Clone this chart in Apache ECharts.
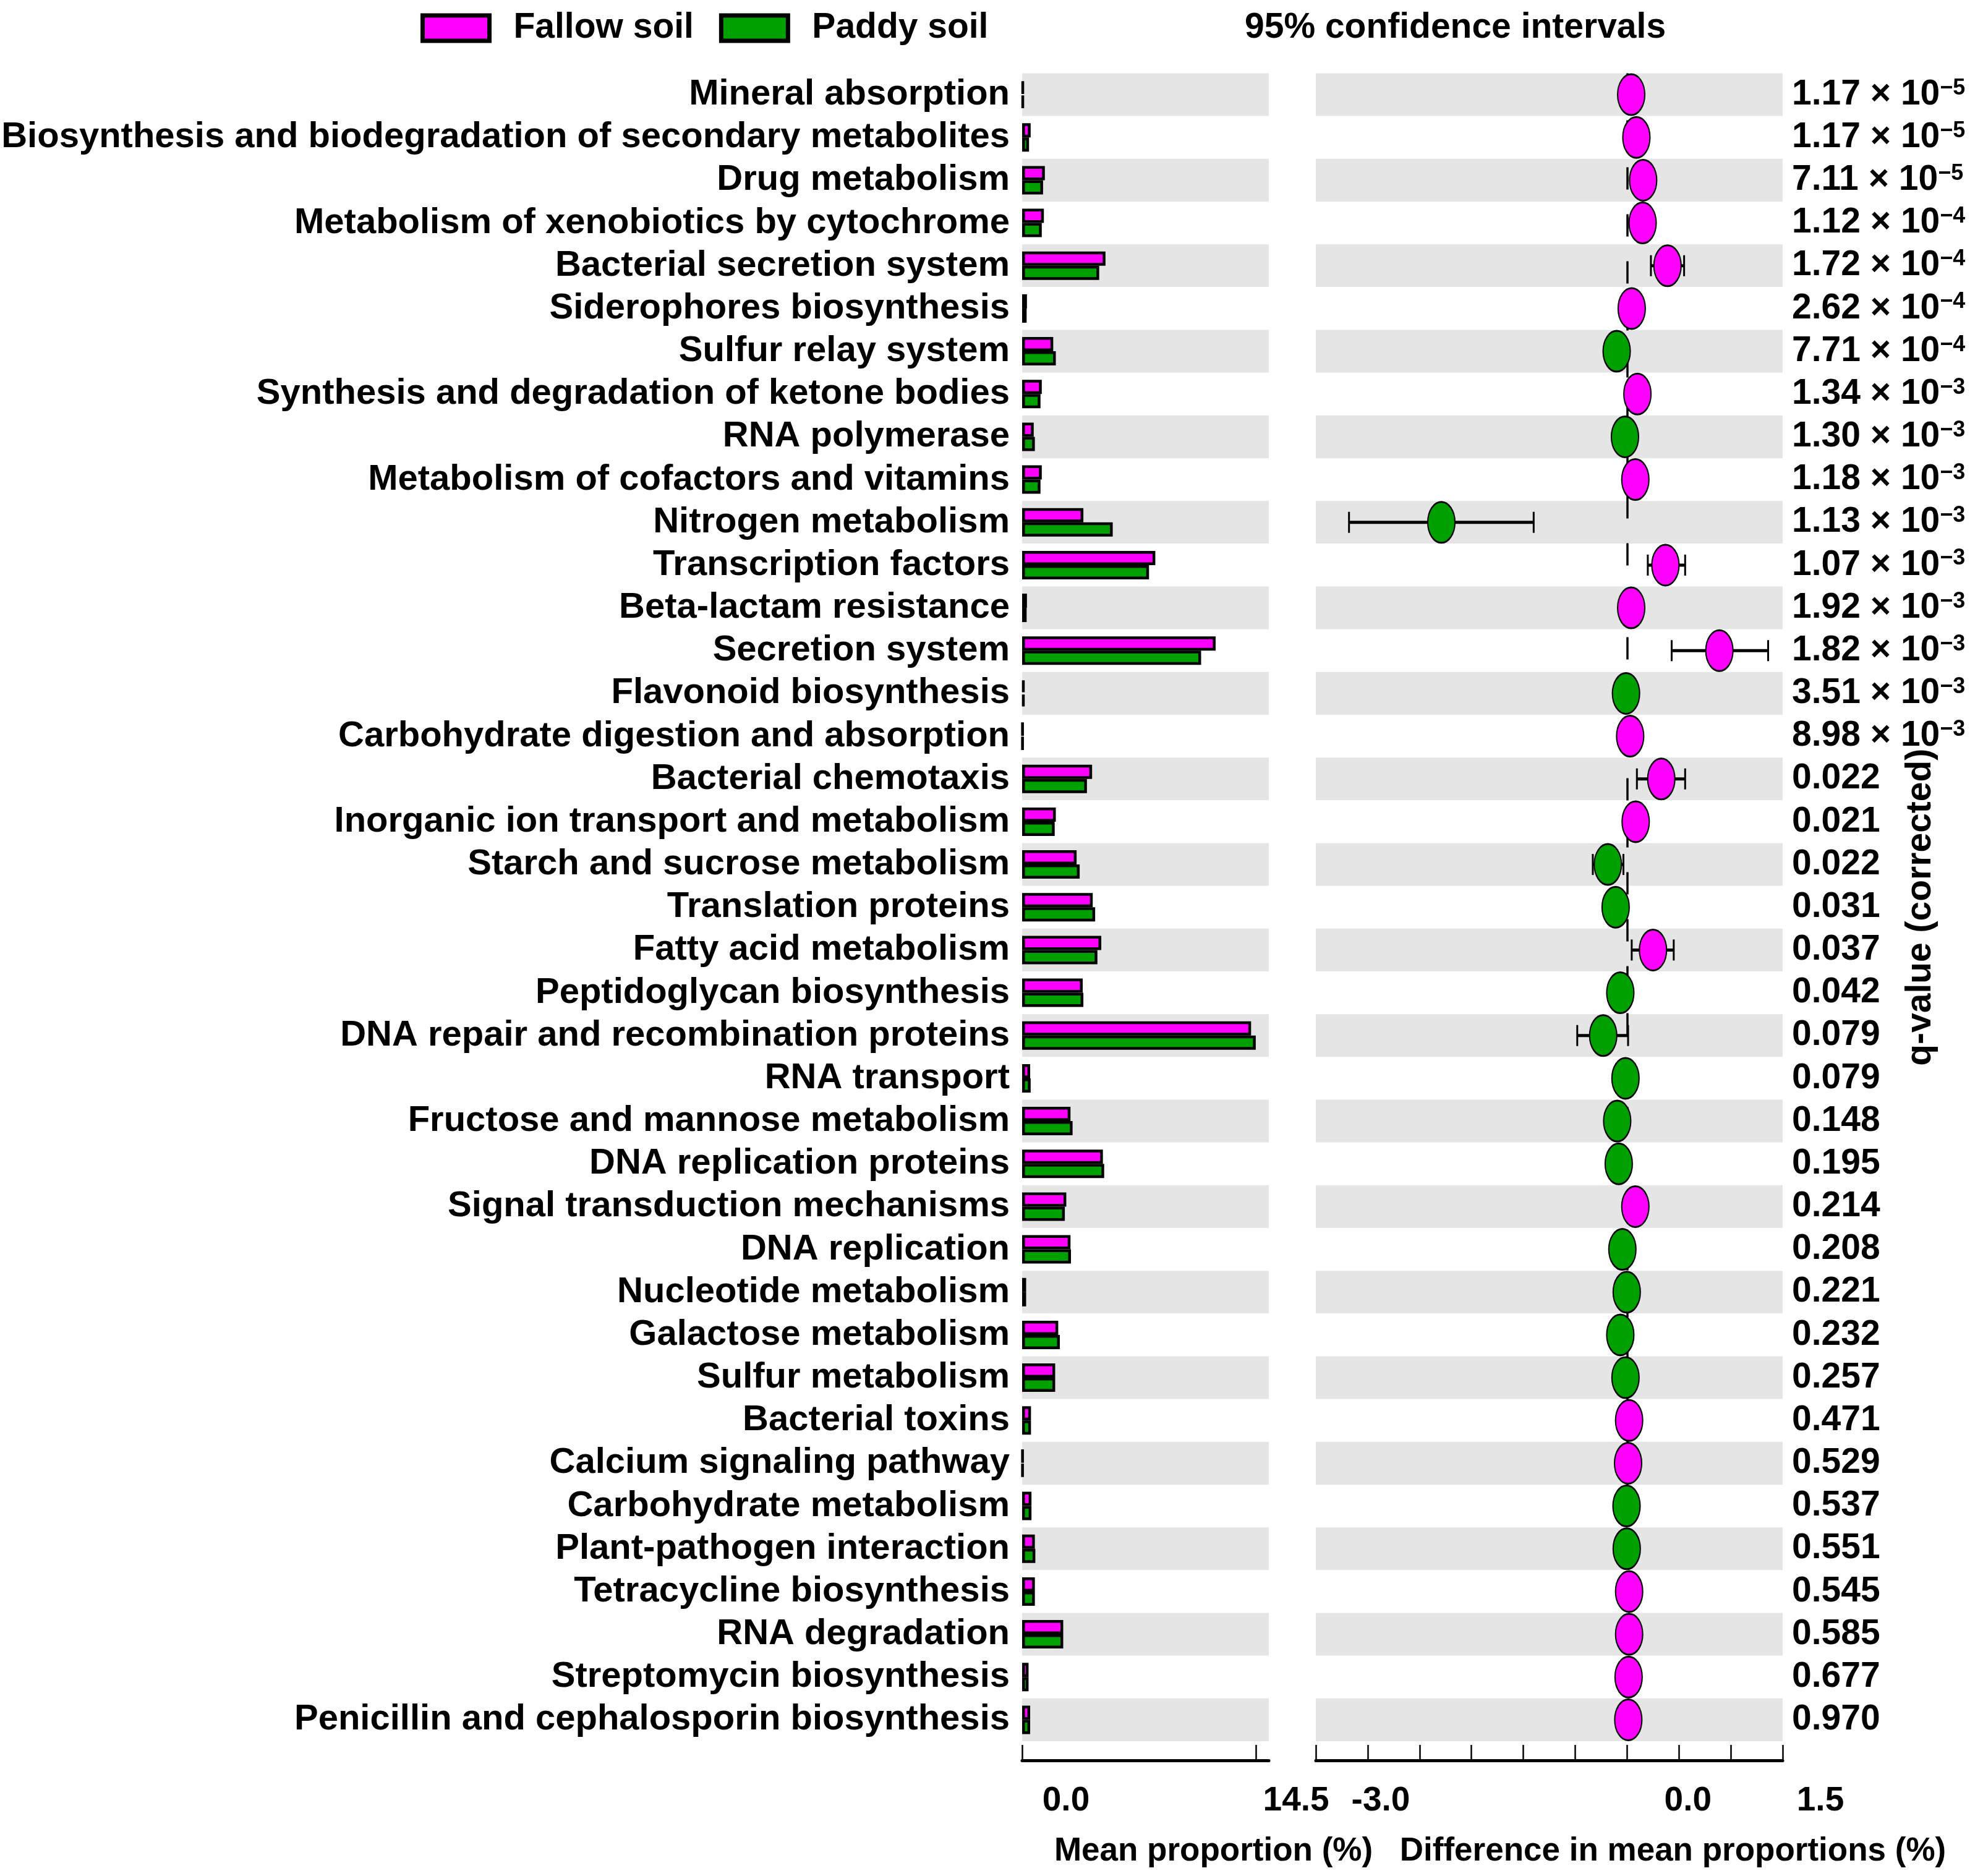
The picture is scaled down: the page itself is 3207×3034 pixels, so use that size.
<!DOCTYPE html>
<html><head><meta charset="utf-8">
<script src="https://cdn.jsdelivr.net/npm/echarts@6/dist/echarts.min.js"></script>
<style>html,body{margin:0;padding:0;background:#fff}#c{width:3207px;height:3034px}</style>
</head><body><div id="c"></div>
<script>
const categories = [
  'Mineral absorption',
  'Biosynthesis and biodegradation of secondary metabolites',
  'Drug metabolism',
  'Metabolism of xenobiotics by cytochrome',
  'Bacterial secretion system',
  'Siderophores biosynthesis',
  'Sulfur relay system',
  'Synthesis and degradation of ketone bodies',
  'RNA polymerase',
  'Metabolism of cofactors and vitamins',
  'Nitrogen metabolism',
  'Transcription factors',
  'Beta-lactam resistance',
  'Secretion system',
  'Flavonoid biosynthesis',
  'Carbohydrate digestion and absorption',
  'Bacterial chemotaxis',
  'Inorganic ion transport and metabolism',
  'Starch and sucrose metabolism',
  'Translation proteins',
  'Fatty acid metabolism',
  'Peptidoglycan biosynthesis',
  'DNA repair and recombination proteins',
  'RNA transport',
  'Fructose and mannose metabolism',
  'DNA replication proteins',
  'Signal transduction mechanisms',
  'DNA replication',
  'Nucleotide metabolism',
  'Galactose metabolism',
  'Sulfur metabolism',
  'Bacterial toxins',
  'Calcium signaling pathway',
  'Carbohydrate metabolism',
  'Plant-pathogen interaction',
  'Tetracycline biosynthesis',
  'RNA degradation',
  'Streptomycin biosynthesis',
  'Penicillin and cephalosporin biosynthesis'
];
const fallowMean = [0.08, 0.53, 1.41, 1.35, 5.17, 0.30, 1.93, 1.22, 0.72, 1.22, 3.80, 8.26, 0.30, 12.0,
  0.15, 0.05, 4.34, 2.09, 3.38, 4.38, 4.91, 3.76, 14.2, 0.50, 3.00, 5.01, 2.74,
  3.00, 0.25, 2.24, 2.05, 0.55, 0.05, 0.58, 0.79, 0.79, 2.55, 0.40, 0.50];
const paddyMean = [0.08, 0.43, 1.30, 1.22, 4.78, 0.28, 2.09, 1.14, 0.79, 1.14, 5.62, 7.87, 0.28, 11.1,
  0.15, 0.05, 4.02, 2.02, 3.57, 4.53, 4.67, 3.80, 14.49, 0.53, 3.13, 5.09, 2.65,
  3.03, 0.25, 2.34, 2.05, 0.55, 0.05, 0.58, 0.82, 0.79, 2.55, 0.40, 0.50];
const diffMean = [0.04, 0.09, 0.155, 0.15, 0.39, 0.045, -0.10, 0.10, -0.02, 0.08, -1.79, 0.37, 0.04, 0.89,
  -0.01, 0.03, 0.33, 0.083, -0.185, -0.11, 0.25, -0.065, -0.23, -0.015, -0.095, -0.08, 0.08,
  -0.045, -0.003, -0.065, -0.015, 0.02, 0.01, -0.005, -0.003, 0.02, 0.02, 0.015, 0.012];
const ciLow = [0.01, 0.06, 0.11, 0.10, 0.23, 0.02, -0.14, 0.06, -0.05, 0.05, -2.68, 0.20, 0.02, 0.43,
  -0.02, 0.01, 0.095, 0.03, -0.33, -0.20, 0.045, -0.13, -0.48, -0.04, -0.19, -0.18, -0.02,
  -0.12, -0.01, -0.15, -0.06, -0.01, -0.005, -0.03, -0.03, -0.01, -0.05, -0.01, -0.01];
const ciHigh = [0.07, 0.12, 0.20, 0.20, 0.55, 0.07, -0.06, 0.14, 0.01, 0.11, -0.90, 0.56, 0.06, 1.36,
  0.00, 0.05, 0.56, 0.13, -0.035, -0.02, 0.45, 0.00, 0.01, 0.01, 0.00, 0.02, 0.18,
  0.03, 0.005, 0.02, 0.03, 0.05, 0.025, 0.02, 0.02, 0.05, 0.09, 0.04, 0.035];
const qValues = [
  '1.17 × 10^−5', '1.17 × 10^−5', '7.11 × 10^−5', '1.12 × 10^−4', '1.72 × 10^−4', '2.62 × 10^−4',
  '7.71 × 10^−4', '1.34 × 10^−3', '1.30 × 10^−3', '1.18 × 10^−3', '1.13 × 10^−3', '1.07 × 10^−3',
  '1.92 × 10^−3', '1.82 × 10^−3', '3.51 × 10^−3', '8.98 × 10^−3',
  '0.022', '0.021', '0.022', '0.031', '0.037', '0.042', '0.079', '0.079', '0.148', '0.195', '0.214',
  '0.208', '0.221', '0.232', '0.257', '0.471', '0.529', '0.537', '0.551', '0.545', '0.585', '0.677', '0.970'
];
const meanTicks = [0, 14.5];
const diffLabelTicks = [-3, 0, 1.5];

const FONT = 'Liberation Sans, Arial, sans-serif';
const PINK = '#ff00ff';
const GREEN = '#00a000';
const BAND = ['#e5e5e5', '#ffffff'];

const chart = echarts.init(document.getElementById('c'), null, {renderer: 'canvas'});

function tickRich(list, pads) {
  const r = {};
  list.forEach((v, k) => { r['t' + k] = {fontSize: 55, fontWeight: 'bold', fontFamily: FONT, color: '#000', padding: [0, 0, 0, pads[k]]}; });
  return r;
}

const option = {
  backgroundColor: '#fff',
  animation: false,
  textStyle: {fontFamily: FONT},
  title: {
    text: '95% confidence intervals', left: 2008, top: 12,
    textStyle: {fontSize: 57, fontWeight: 'bold', color: '#000', fontFamily: FONT}
  },
  legend: {
    data: ['Fallow soil', 'Paddy soil'], left: 675, top: 12,
    icon: 'rect', itemWidth: 108, itemHeight: 41, itemGap: 41,
    itemStyle: {borderColor: '#000', borderWidth: 7},
    textStyle: {fontSize: 57, fontWeight: 'bold', color: '#000', fontFamily: FONT, padding: [0, 0, 0, 34]}
  },
  grid: [
    {left: 1653, top: 118.5, width: 399, height: 2697.5, outerBoundsMode: 'none', containLabel: false},
    {left: 2128, top: 118.5, width: 755, height: 2697.5, outerBoundsMode: 'none', containLabel: false}
  ],
  xAxis: [
    {
      gridIndex: 0, type: 'value', min: 0, max: 15.3, offset: 31,
      axisLine: {show: true, lineStyle: {color: '#000', width: 5}},
      axisTick: {show: true, inside: true, length: 25, customValues: meanTicks, lineStyle: {color: '#000', width: 2.5}},
      axisLabel: {
        customValues: meanTicks, margin: 38,
        formatter: v => '{t' + meanTicks.indexOf(v) + '|' + v.toFixed(1) + '}',
        rich: tickRich(meanTicks, [142, 130])
      },
      splitLine: {show: false},
      name: 'Mean proportion (%)', nameLocation: 'middle', nameGap: 121, nameMoveOverlap: false,
      nameTextStyle: {fontSize: 53, fontWeight: 'bold', color: '#000', fontFamily: FONT, padding: [0, 0, 0, 220]}
    },
    {
      gridIndex: 1, type: 'value', min: -3, max: 1.5, interval: 0.5, offset: 31,
      axisLine: {show: true, lineStyle: {color: '#000', width: 5}},
      axisTick: {show: true, inside: true, length: 25, lineStyle: {color: '#000', width: 2.5}},
      axisLabel: {
        customValues: diffLabelTicks, margin: 38,
        formatter: v => '{t' + diffLabelTicks.indexOf(v) + '|' + v.toFixed(1) + '}',
        rich: tickRich(diffLabelTicks, [210, 197, 122])
      },
      splitLine: {show: false},
      name: 'Difference in mean proportions (%)', nameLocation: 'middle', nameGap: 121, nameMoveOverlap: false,
      nameTextStyle: {fontSize: 53, fontWeight: 'bold', color: '#000', fontFamily: FONT, padding: [0, 0, 0, 400]}
    }
  ],
  yAxis: [
    {
      gridIndex: 0, type: 'category', data: categories, inverse: true,
      axisLine: {show: false}, axisTick: {show: false},
      splitArea: {show: true, interval: 0, areaStyle: {color: BAND}},
      axisLabel: {interval: 0, margin: 20, fontSize: 58, fontWeight: 'bold', color: '#000', fontFamily: FONT}
    },
    {
      gridIndex: 1, type: 'category', data: categories, inverse: true, position: 'right',
      axisLine: {show: false}, axisTick: {show: false},
      splitArea: {show: true, interval: 0, areaStyle: {color: BAND}},
      axisLabel: {
        interval: 0, margin: 15, align: 'left',
        formatter: (v, i) => {
          const s = qValues[i];
          const k = s.indexOf('^');
          return k < 0 ? '{m|' + s + '}' : '{m|' + s.slice(0, k) + '}{s|' + s.slice(k + 1) + '}';
        },
        rich: {
          m: {fontSize: 57, fontWeight: 'bold', color: '#000', fontFamily: FONT},
          s: {fontSize: 36, fontWeight: 'bold', color: '#000', fontFamily: FONT, verticalAlign: 'top', padding: [0, 0, 18, 0]}
        }
      },
      name: 'q-value (corrected)', nameLocation: 'middle', nameRotate: 90, nameGap: 195, nameMoveOverlap: false,
      nameTextStyle: {fontSize: 57, fontWeight: 'bold', color: '#000', fontFamily: FONT}
    }
  ],
  series: [
    {
      name: 'Fallow soil', type: 'bar', xAxisIndex: 0, yAxisIndex: 0, data: fallowMean,
      barWidth: 23, barGap: '0%',
      itemStyle: {color: PINK, borderColor: '#000', borderWidth: 4.5}
    },
    {
      name: 'Paddy soil', type: 'bar', xAxisIndex: 0, yAxisIndex: 0, data: paddyMean,
      barWidth: 23, barGap: '0%',
      itemStyle: {color: GREEN, borderColor: '#000', borderWidth: 4.5}
    },
    {
      name: 'CI', type: 'custom', xAxisIndex: 1, yAxisIndex: 1, z: 3,
      dimensions: ['low', 'high', 'row'],
      data: categories.map((c, i) => [ciLow[i], ciHigh[i], i]),
      encode: {x: [0, 1], y: 2},
      renderItem: (params, api) => {
        const i = api.value(2);
        const a = api.coord([api.value(0), i]);
        const b = api.coord([api.value(1), i]);
        const h = 17;
        return {type: 'group', children: [
          {type: 'line', shape: {x1: a[0], y1: a[1], x2: b[0], y2: b[1]}, style: {stroke: '#000', lineWidth: 5}},
          {type: 'line', shape: {x1: a[0], y1: a[1] - h, x2: a[0], y2: a[1] + h}, style: {stroke: '#000', lineWidth: 3}},
          {type: 'line', shape: {x1: b[0], y1: b[1] - h, x2: b[0], y2: b[1] + h}, style: {stroke: '#000', lineWidth: 3}}
        ]};
      }
    },
    {
      name: 'Difference', type: 'scatter', xAxisIndex: 1, yAxisIndex: 1, z: 5,
      data: categories.map((c, i) => [diffMean[i], i]),
      symbol: 'circle', symbolSize: [44, 66],
      itemStyle: {
        color: p => (p.value[0] >= 0 ? PINK : GREEN),
        borderColor: '#000', borderWidth: 2.5, opacity: 1
      },
      markLine: {
        silent: true, symbol: ['none', 'none'], z: 1,
        label: {show: false},
        lineStyle: {color: '#000', width: 3.5, type: [36, 40]},
        data: [{xAxis: 0}]
      }
    }
  ]
};
chart.setOption(option);
</script></body></html>
